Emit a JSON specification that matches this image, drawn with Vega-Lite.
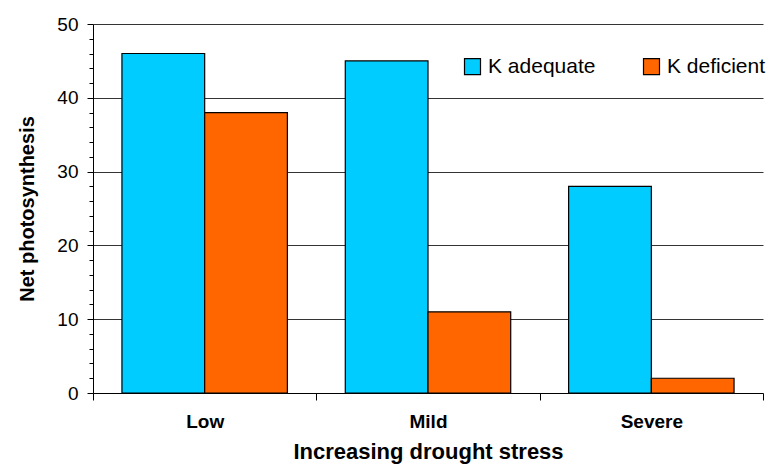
{
  "$schema": "https://vega.github.io/schema/vega-lite/v6.json",
  "width": 670,
  "height": 369,
  "autosize": "none",
  "padding": {"left": 93, "top": 24, "right": 5, "bottom": 71},
  "background": "white",
  "config": {
    "font": "Liberation Sans",
    "view": {"stroke": null}
  },
  "data": {
    "values": [
      {"stress": "Low", "treatment": "K adequate", "value": 46},
      {"stress": "Low", "treatment": "K deficient", "value": 38},
      {"stress": "Mild", "treatment": "K adequate", "value": 45},
      {"stress": "Mild", "treatment": "K deficient", "value": 11},
      {"stress": "Severe", "treatment": "K adequate", "value": 28},
      {"stress": "Severe", "treatment": "K deficient", "value": 2}
    ]
  },
  "mark": {"type": "bar", "stroke": "black", "strokeWidth": 1.2},
  "encoding": {
    "x": {
      "field": "stress",
      "type": "nominal",
      "sort": ["Low", "Mild", "Severe"],
      "scale": {"paddingInner": 0, "paddingOuter": 0},
      "axis": {
        "title": "Increasing drought stress",
        "titleFontSize": 22,
        "titleFontWeight": "bold",
        "titleColor": "black",
        "titlePadding": 10,
        "labelAngle": 0,
        "labelFontSize": 19,
        "labelFontWeight": "bold",
        "labelColor": "black",
        "labelPadding": 12,
        "tickBand": "extent",
        "tickColor": "black",
        "tickSize": 7,
        "domainColor": "black",
        "domainWidth": 1
      }
    },
    "xOffset": {"field": "treatment", "type": "nominal", "scale": {"paddingInner": 0, "paddingOuter": 0.35}},
    "y": {
      "field": "value",
      "type": "quantitative",
      "scale": {"domain": [0, 50], "nice": false},
      "axis": {
        "title": "Net photosynthesis",
        "titleFontSize": 20,
        "titleFontWeight": "bold",
        "titleColor": "black",
        "titlePadding": 19,
        "values": [0, 2, 4, 6, 8, 10, 12, 14, 16, 18, 20, 22, 24, 26, 28, 30, 32, 34, 36, 38, 40, 42, 44, 46, 48, 50],
        "labelExpr": "datum.value % 10 === 0 ? datum.label : ''",
        "labelFontSize": 19,
        "labelColor": "black",
        "labelPadding": 9,
        "grid": true,
        "gridColor": "black",
        "gridWidth": 0.8,
        "gridOpacity": {"condition": {"test": "datum.value % 10 === 0 && datum.value > 0", "value": 1}, "value": 0},
        "tickColor": "black",
        "tickSize": {"condition": {"test": "datum.value % 10 === 0", "value": 6}, "value": 4},
        "domainColor": "black"
      }
    },
    "color": {
      "field": "treatment",
      "type": "nominal",
      "scale": {"domain": ["K adequate", "K deficient"], "range": ["#00CCFF", "#FF6600"]},
      "legend": {
        "title": null,
        "orient": "none",
        "direction": "horizontal",
        "legendX": 369,
        "legendY": 32,
        "symbolType": "square",
        "symbolSize": 256,
        "symbolStrokeColor": "black",
        "symbolStrokeWidth": 1.2,
        "symbolOpacity": 1,
        "labelFontSize": 21,
        "labelColor": "black",
        "labelOffset": 5,
        "columnPadding": 45
      }
    }
  }
}
